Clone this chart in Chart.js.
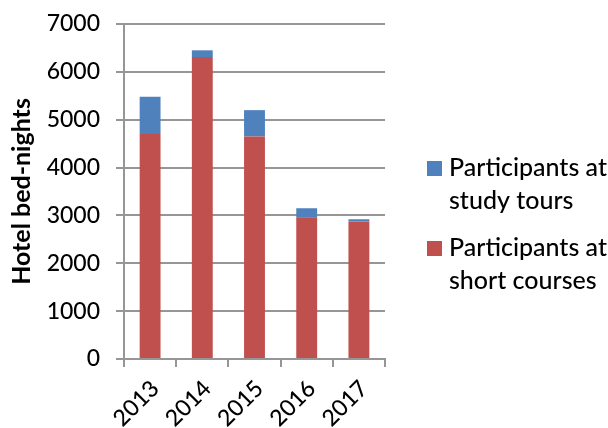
<!DOCTYPE html>
<html>
<head>
<meta charset="utf-8">
<script src="https://cdn.jsdelivr.net/npm/chart.js@4/dist/chart.umd.min.js"></script>
<style>
  html, body { margin: 0; padding: 0; background: #fff; }
  #wrap { width: 608px; height: 428px; }
</style>
</head>
<body>
<div id="wrap"><canvas id="chart" width="608" height="428"></canvas></div>
<script>
const years = ['2013', '2014', '2015', '2016', '2017'];
const shortCourses = [4700, 6310, 4650, 2960, 2870];
const studyTours = [780, 140, 550, 190, 50];
const seriesNames = [['Participants at', 'short courses'], ['Participants at', 'study tours']];
const yTicks = [0, 1000, 2000, 3000, 4000, 5000, 6000, 7000];

const FONT = 'Lato, "Open Sans", sans-serif';
const RED = '#C0504D';
const BLUE = '#4F81BD';
const GRID = '#969696';

// legend drawn by hand, because the labels wrap onto two lines
const sideLegend = {
    id: 'sideLegend',
    afterDraw(chart) {
        const ctx = chart.ctx;
        const items = [
            { color: BLUE, lines: seriesNames[1], y: 168 },
            { color: RED, lines: seriesNames[0], y: 248 }
        ];
        ctx.save();
        ctx.font = '500 25px ' + FONT;
        ctx.textBaseline = 'middle';
        items.forEach(item => {
            ctx.fillStyle = item.color;
            ctx.fillRect(427, item.y - 7, 15, 15);
            ctx.fillStyle = '#000';
            item.lines.forEach((line, i) => ctx.fillText(line, 449, item.y + i * 33));
        });
        ctx.restore();
    }
};

new Chart(document.getElementById('chart'), {
    type: 'bar',
    data: {
        labels: years,
        datasets: [
            { label: seriesNames[0].join(' '), data: shortCourses, backgroundColor: RED, barPercentage: 0.4, categoryPercentage: 1 },
            { label: seriesNames[1].join(' '), data: studyTours, backgroundColor: BLUE, barPercentage: 0.4, categoryPercentage: 1 }
        ]
    },
    options: {
        responsive: false,
        animation: false,
        layout: { padding: { top: 24, right: 223, left: 0, bottom: 0 } },
        plugins: { legend: { display: false }, tooltip: { enabled: false } },
        scales: {
            x: {
                stacked: true,
                grid: { drawOnChartArea: false, drawTicks: true, tickLength: 8, color: GRID, lineWidth: 2 },
                border: { color: GRID, width: 2 },
                ticks: { color: '#000', font: { family: FONT, size: 23, weight: '500' }, minRotation: 45, maxRotation: 45, padding: 8, labelOffset: 5 },
                afterFit: s => { s.height = 428 - 359; s.paddingLeft = 0; s.paddingRight = 0; }
            },
            y: {
                stacked: true,
                min: 0,
                max: 7000,
                afterBuildTicks: s => { s.ticks = yTicks.map(v => ({ value: v })); },
                grid: { color: GRID, lineWidth: 2, tickLength: 8 },
                border: { color: GRID, width: 2 },
                ticks: { color: '#000', font: { family: FONT, size: 23, weight: '500' }, padding: 16, callback: v => String(v) },
                title: { display: true, text: 'Hotel bed-nights', color: '#000', font: { family: FONT, size: 25, weight: 'bold' }, padding: { top: 7, bottom: 0 } },
                afterFit: s => { s.width = 124; s.paddingTop = 0; s.paddingBottom = 0; }
            }
        }
    },
    plugins: [sideLegend]
});
</script>
</body>
</html>
